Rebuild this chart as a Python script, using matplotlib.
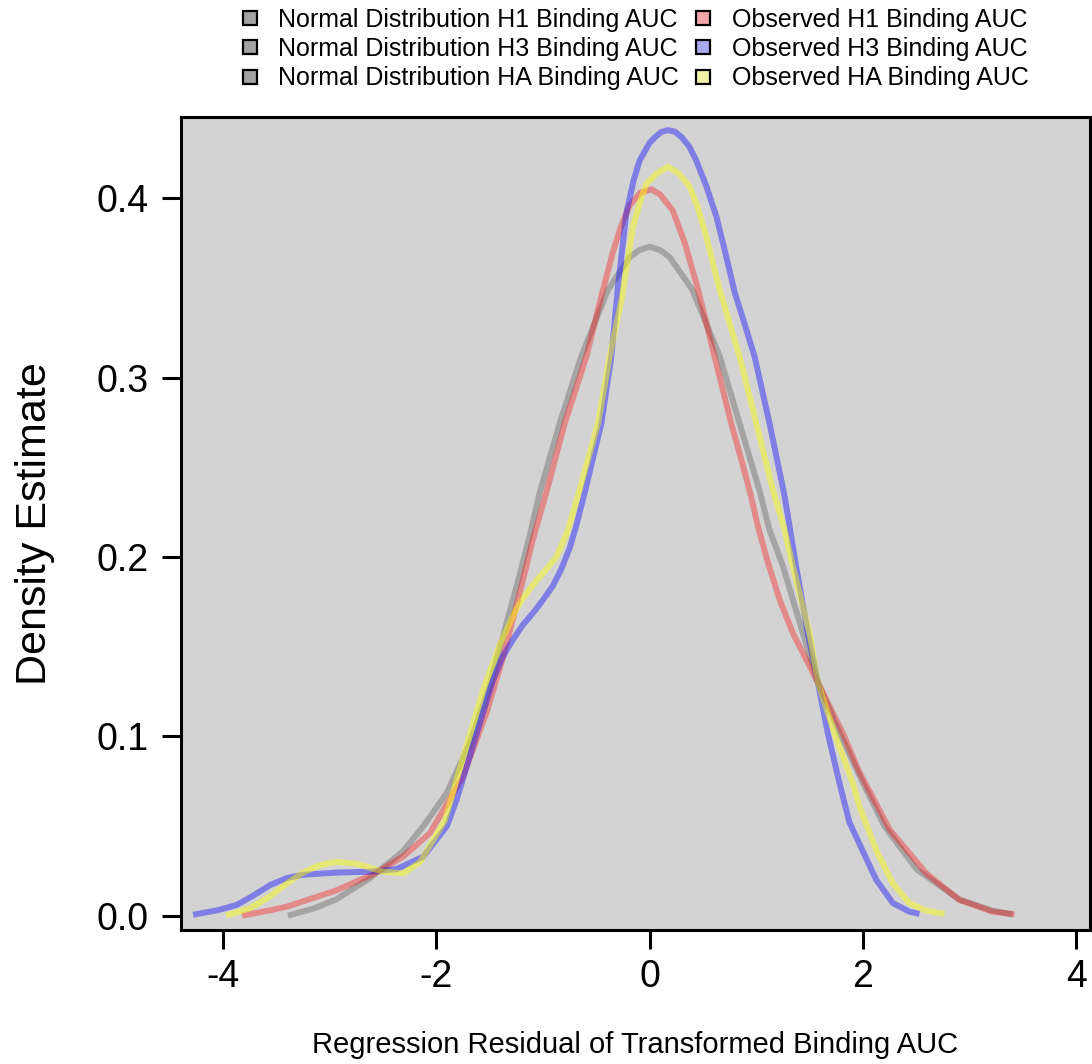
import numpy as np
import matplotlib
matplotlib.use("Agg")
import matplotlib.pyplot as plt
from matplotlib.lines import Line2D

plt.rcParams["font.family"] = ["Liberation Sans", "DejaVu Sans"]

# values (x = residual, y = density)
normal_x = [-3.39, -3.15, -2.94, -2.62, -2.31, -2.12, -1.906, -1.686, -1.50, -1.342,
            -1.218, -1.124, -1.03, -0.843, -0.64, -0.39, -0.19, -0.1, 0.0, 0.1,
            0.19, 0.40, 0.656, 0.843, 1.03, 1.124, 1.249, 1.436, 1.577, 1.78,
            2.0, 2.2, 2.5, 2.9, 3.2, 3.4]
normal_y = [0.0, 0.004, 0.009, 0.021, 0.036, 0.050, 0.068, 0.096, 0.128, 0.163,
            0.190, 0.212, 0.236, 0.2745, 0.312, 0.349, 0.367, 0.371, 0.373, 0.371,
            0.367, 0.349, 0.312, 0.2745, 0.237, 0.215, 0.195, 0.1575, 0.130, 0.102,
            0.074, 0.050, 0.026, 0.009, 0.003, 0.0006]

h1_x = [-3.82, -3.60, -3.40, -2.94, -2.56, -2.31, -2.06, -1.75, -1.53, -1.374,
        -1.218, -1.093, -0.968, -0.796, -0.593, -0.437, -0.344, -0.27, -0.187, -0.09,
        0.016, 0.1, 0.218, 0.33, 0.45, 0.609, 0.765, 0.87, 0.95, 1.015,
        1.108, 1.22, 1.343, 1.577, 1.811, 1.967, 2.25, 2.592, 2.904, 3.216,
        3.42]
h1_y = [0.0, 0.0025, 0.005, 0.014, 0.024, 0.033, 0.046, 0.0775, 0.113, 0.144,
        0.18, 0.210, 0.236, 0.2745, 0.3117, 0.349, 0.370, 0.384, 0.396, 0.403,
        0.405, 0.402, 0.393, 0.375, 0.350, 0.3117, 0.2745, 0.252, 0.234, 0.217,
        0.197, 0.176, 0.1575, 0.130, 0.1017, 0.080, 0.048, 0.0236, 0.0088, 0.0022,
        0.0008]

h3_x = [-4.28, -4.05, -3.87, -3.72, -3.56, -3.40, -3.25, -2.94, -2.62, -2.37,
        -2.12, -1.90, -1.81, -1.62, -1.47, -1.38, -1.28, -1.19, -1.09, -1.0,
        -0.906, -0.83, -0.749, -0.69, -0.625, -0.452, -0.359, -0.30, -0.218, -0.15,
        -0.094, 0.0, 0.05, 0.11, 0.172, 0.24, 0.30, 0.37, 0.437, 0.53,
        0.625, 0.70, 0.80, 0.89, 0.984, 1.124, 1.265, 1.374, 1.483, 1.577,
        1.67, 1.78, 1.873, 1.967, 2.124, 2.28, 2.436, 2.53]
h3_y = [0.0005, 0.003, 0.006, 0.011, 0.017, 0.021, 0.0228, 0.024, 0.0245, 0.026,
        0.033, 0.050, 0.0645, 0.1017, 0.131, 0.144, 0.154, 0.162, 0.169, 0.176,
        0.184, 0.193, 0.205, 0.217, 0.232, 0.2745, 0.3117, 0.349, 0.392, 0.410,
        0.421, 0.431, 0.434, 0.437, 0.438, 0.437, 0.434, 0.429, 0.421, 0.407,
        0.390, 0.372, 0.347, 0.330, 0.3117, 0.2745, 0.234, 0.1946, 0.1575, 0.130,
        0.1017, 0.0738, 0.052, 0.040, 0.020, 0.007, 0.0022, 0.001]

ha_x = [-3.97, -3.75, -3.56, -3.40, -3.25, -3.10, -2.94, -2.75, -2.50, -2.31,
        -2.15, -1.92, -1.72, -1.56, -1.405, -1.25, -1.15, -1.06, -0.97, -0.874,
        -0.765, -0.656, -0.484, -0.375, -0.265, -0.156, -0.09, -0.031, 0.07, 0.172,
        0.27, 0.375, 0.45, 0.531, 0.656, 0.843, 1.0, 1.155, 1.265, 1.343,
        1.499, 1.577, 1.733, 1.905, 1.967, 2.124, 2.28, 2.436, 2.592, 2.763]
ha_y = [0.0, 0.004, 0.0106, 0.018, 0.024, 0.028, 0.030, 0.029, 0.0245, 0.0236,
        0.030, 0.053, 0.094, 0.126, 0.151, 0.171, 0.180, 0.187, 0.193, 0.200,
        0.2151, 0.2374, 0.2745, 0.3117, 0.343, 0.384, 0.398, 0.408, 0.414, 0.4176,
        0.414, 0.4065, 0.395, 0.3786, 0.349, 0.3117, 0.2745, 0.2374, 0.2151, 0.1946,
        0.1575, 0.130, 0.1017, 0.0738, 0.0608, 0.0366, 0.018, 0.0069, 0.0028, 0.001]

legend_labels = ["Normal Distribution H1 Binding AUC", "Normal Distribution H3 Binding AUC",
                 "Normal Distribution HA Binding AUC", "Observed H1 Binding AUC",
                 "Observed H3 Binding AUC", "Observed HA Binding AUC"]
legend_fill = ["#a3a3a3", "#a3a3a3", "#a3a3a3", "#f2a6a6", "#aaaaf2", "#f2f2a6"]

fig = plt.figure(figsize=(10.92, 10.64), dpi=100)
ax = fig.add_axes([181 / 1092, 134 / 1064, 909 / 1092, 813 / 1064])
ax.set_facecolor("#d3d3d3")

lw = 4.3
style = dict(lw=lw, solid_capstyle="butt", solid_joinstyle="round")
# three normal reference curves sit on top of each other
for _ in range(3):
    ax.plot(normal_x, normal_y, color="black", alpha=0.08, **style)
ax.plot(h1_x, h1_y, color="red", alpha=0.35, **style)
ax.plot(h3_x, h3_y, color="blue", alpha=0.4, **style)
ax.plot(ha_x, ha_y, color="yellow", alpha=0.45, **style)

ax.set_xlim(-4.393, 4.128)
ax.set_ylim(-0.008, 0.4453)
ax.set_xticks([-4, -2, 0, 2, 4])
ax.set_xticklabels(["-4", "-2", "0", "2", "4"])
ax.set_yticks([0.0, 0.1, 0.2, 0.3, 0.4])
ax.set_yticklabels(["0.0", "0.1", "0.2", "0.3", "0.4"])
for s in ax.spines.values():
    s.set_linewidth(2.2)
ax.tick_params(direction="out", length=14, width=2.2, labelsize=27)
ax.tick_params(axis="x", pad=7)
ax.tick_params(axis="y", pad=9)

ax.set_xlabel("Regression Residual of Transformed Binding AUC", fontsize=21, labelpad=26)
ax.set_ylabel("Density Estimate", fontsize=31, labelpad=30)

handles = [Line2D([], [], ls="none", marker="s", markersize=10, markerfacecolor=c,
                  markeredgecolor="black", markeredgewidth=1.6) for c in legend_fill]
fig.legend(handles, legend_labels, loc="upper center", bbox_to_anchor=(634 / 1092, 1 + 10 / 1064),
           ncol=2, frameon=False, fontsize=18, handlelength=0.8, handletextpad=0.75,
           columnspacing=0.55, labelspacing=0.22, borderpad=0.2)

fig.savefig("out.png", dpi=100)
